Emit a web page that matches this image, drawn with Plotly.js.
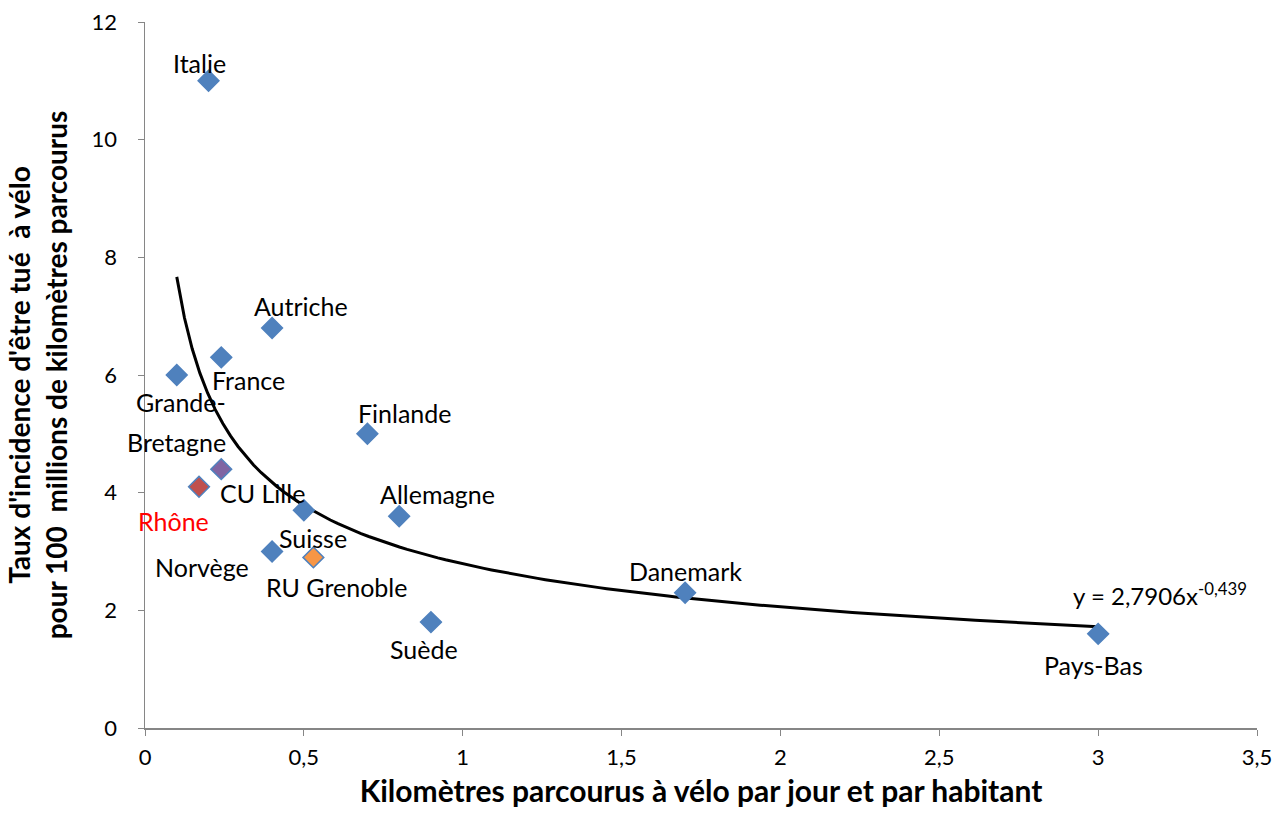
<!DOCTYPE html>
<html>
<head>
<meta charset="utf-8">
<script src="https://cdn.plot.ly/plotly-3.0.1.min.js"></script>
<style>html,body{margin:0;padding:0;background:#fff;}#chart{width:1283px;height:827px;}</style>
</head>
<body>
<div id="chart"></div>
<script>
// Data
const countries = ["Italie","Autriche","France","Grande-Bretagne","Finlande","CU Lille","Rhône","Allemagne","Suisse","Norvège","RU Grenoble","Suède","Danemark","Pays-Bas"];
const kmPerDay  = [0.2, 0.4, 0.24, 0.1, 0.7, 0.24, 0.17, 0.8, 0.5, 0.4, 0.53, 0.9, 1.7, 3.0];
const deathRate = [11.0, 6.8, 6.3, 6.0, 5.0, 4.4, 4.1, 3.6, 3.7, 3.0, 2.9, 1.8, 2.3, 1.6];
const markerFill = ["#4F81BD","#4F81BD","#4F81BD","#4F81BD","#4F81BD","#8064A2","#C0504D","#4F81BD","#4F81BD","#4F81BD","#F79646","#4F81BD","#4F81BD","#4F81BD"];
const xTicks = [0, 0.5, 1, 1.5, 2, 2.5, 3, 3.5];
const yTicks = [0, 2, 4, 6, 8, 10, 12];
// Power trendline shown on the chart: y = 2,7906 x^-0,439
const trendA = 2.7906, trendB = -0.439;
const trendRange = [0.1, 3.0];

// label offsets (pixels) relative to each marker
const labelDx = [-9, 29, 27, 0, 38, 41, -26, 38, 9, -70, 23, -7, 0, -5];
const labelDy = [-18, -22, 23, 0, -21, 24, 34, -22, 28, 15, 30, 27, -22, 31];
const labelColor = countries.map(c => c === "Rhône" ? "#FF0000" : "#000000");

const trendX = [], trendY = [];
const nSteps = 120;
for (let i = 0; i <= nSteps; i++) {
  const x = trendRange[0] + (trendRange[1] - trendRange[0]) * i / nSteps;
  trendX.push(x);
  trendY.push(trendA * Math.pow(x, trendB));
}

const font = "Lato, 'Open Sans', sans-serif";
const labelSize = 25;

const traces = [
  {
    x: trendX, y: trendY, mode: "lines", type: "scatter",
    line: {color: "#000000", width: 3}, hoverinfo: "skip", showlegend: false
  },
  {
    x: kmPerDay, y: deathRate, mode: "markers", type: "scatter", text: countries,
    marker: {symbol: "diamond", size: 16, color: markerFill, line: {color: "#4F81BD", width: 1.5}},
    showlegend: false
  }
];

const annotations = [];
countries.forEach((c, i) => {
  if (c === "Grande-Bretagne") {
    annotations.push({x: kmPerDay[i], y: deathRate[i], text: "Grande-", showarrow: false, xshift: 4, yshift: -27, font: {family: font, size: labelSize, color: "#000"}});
    annotations.push({x: kmPerDay[i], y: deathRate[i], text: "Bretagne", showarrow: false, xshift: 0, yshift: -67, font: {family: font, size: labelSize, color: "#000"}});
    return;
  }
  annotations.push({
    x: kmPerDay[i], y: deathRate[i], text: c, showarrow: false,
    xshift: labelDx[i], yshift: -labelDy[i],
    font: {family: font, size: labelSize, color: labelColor[i]}
  });
});
annotations.push({
  x: trendRange[1], y: trendA * Math.pow(trendRange[1], trendB), text: "y = 2,7906x<sup>-0,439</sup>",
  showarrow: false, xshift: 62, yshift: 33, font: {family: font, size: 24, color: "#000"}
});

const layout = {
  width: 1283, height: 827,
  margin: {l: 145, r: 26, t: 22, b: 99},
  paper_bgcolor: "#ffffff", plot_bgcolor: "#ffffff",
  separators: ", ",
  font: {family: font, size: 22, color: "#000"},
  xaxis: {
    range: [0, 3.5], tickvals: xTicks, showgrid: false, zeroline: false,
    showline: true, linecolor: "#868686", linewidth: 1.5,
    ticks: "outside", ticklen: 6, tickcolor: "#868686",
    ticklabelstandoff: 3,
    tickfont: {family: font, size: 22, color: "#000"},
    title: {text: "<b>Kilomètres parcourus à vélo par jour et par habitant</b>", font: {family: font, size: 30, color: "#000"}, standoff: 12}
  },
  yaxis: {
    range: [0, 12], tickvals: yTicks, showgrid: false, zeroline: false,
    showline: true, linecolor: "#868686", linewidth: 1.5,
    ticks: "outside", ticklen: 6, tickcolor: "#868686",
    ticklabelstandoff: 16,
    tickfont: {family: font, size: 22, color: "#000"},
    title: {text: "<b>Taux d'incidence d'être tué  à vélo<br>pour 100  millions de kilomètres parcourus</b>", font: {family: font, size: 28, color: "#000"}, standoff: 16}
  },
  annotations: annotations,
  showlegend: false
};

Plotly.newPlot("chart", traces, layout, {displayModeBar: false, staticPlot: true});
</script>
</body>
</html>
